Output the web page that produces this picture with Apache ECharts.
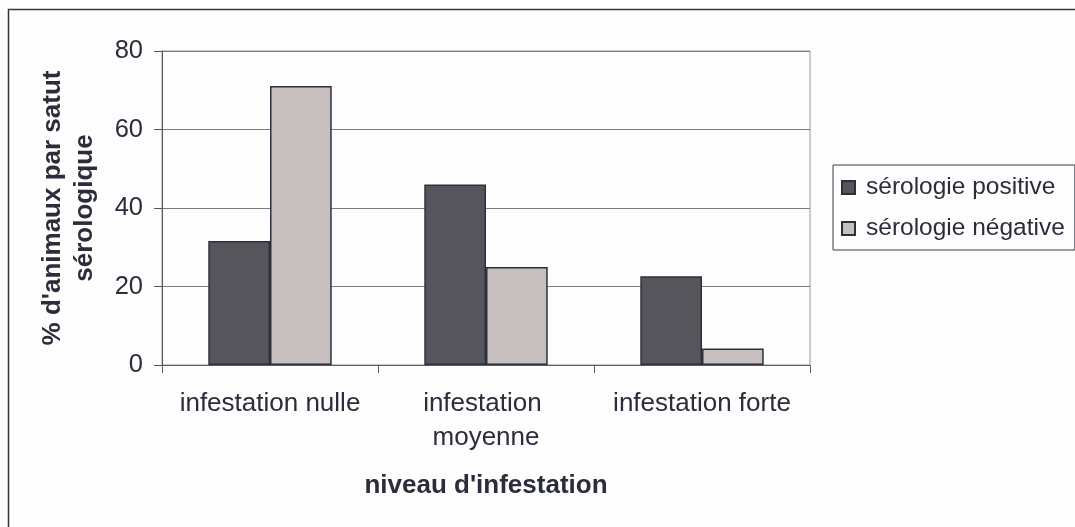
<!DOCTYPE html>
<html>
<head>
<meta charset="utf-8">
<script src="https://cdn.jsdelivr.net/npm/echarts@6/dist/echarts.min.js"></script>
<style>
  html, body { margin: 0; padding: 0; background: #fdfdfd; }
  #chart { width: 1075px; height: 527px; }
</style>
</head>
<body>
<div id="chart"></div>
<script>
// Serological status by infestation level (% of animals)
const categories = ['infestation nulle', 'infestation moyenne', 'infestation forte'];
const seriesNames = ['sérologie positive', 'sérologie négative'];
const positiveValues = [31.6, 46.0, 22.6];
const negativeValues = [71.1, 25.0, 4.2];
const yTicks = [0, 20, 40, 60, 80];

const FONT = '"Liberation Sans", Arial, sans-serif';
const TEXT = '#2b2e3a';
const EDGE = '#2d303c';

const chart = echarts.init(document.getElementById('chart'), null, { renderer: 'canvas' });

chart.setOption({
  backgroundColor: '#fdfdfd',
  animation: false,
  textStyle: { fontFamily: FONT, color: TEXT },
  grid: {
    left: 162, right: 265, top: 51, bottom: 162,
    show: true, borderColor: '#a09494', borderWidth: 1, backgroundColor: 'transparent'
  },
  legend: {
    orient: 'vertical',
    left: 833, top: 165,
    padding: [10, 10, 9, 8],
    itemWidth: 13, itemHeight: 13, itemGap: 16,
    icon: 'rect',
    borderColor: '#3a3d48', borderWidth: 1,
    textStyle: { fontFamily: FONT, fontSize: 24.5, color: TEXT, padding: [0, 0, 0, 6] },
    data: seriesNames
  },
  xAxis: {
    type: 'category',
    data: categories,
    name: "niveau d'infestation",
    nameLocation: 'middle',
    nameGap: 108,
    nameTextStyle: { fontFamily: FONT, fontSize: 26, fontWeight: 'bold', color: TEXT },
    axisLine: { lineStyle: { color: '#5e5e66', width: 1 } },
    axisTick: { show: true, length: 8, inside: false, lineStyle: { color: '#5e5e66' } },
    axisLabel: {
      interval: 0, margin: 22, fontSize: 26, lineHeight: 34, color: TEXT,
      width: 205, overflow: 'break', align: 'center'
    },
    splitLine: { show: false }
  },
  yAxis: {
    type: 'value',
    min: 0, max: 80, interval: 20,
    name: "% d'animaux par satut\nsérologique",
    nameLocation: 'middle',
    nameRotate: 90,
    nameGap: 61,
    nameTextStyle: { fontFamily: FONT, fontSize: 26, fontWeight: 'bold', color: TEXT, lineHeight: 32, align: 'center' },
    axisLine: { show: true, lineStyle: { color: '#55555d', width: 1 } },
    axisTick: { show: true, length: 8, inside: false, lineStyle: { color: '#55555d' } },
    axisLabel: {
      margin: 19, fontSize: 25.5, color: TEXT,
      formatter: v => (yTicks.includes(v) ? String(v) : '')
    },
    splitLine: { show: true, lineStyle: { color: '#7c7c84', width: 1 } }
  },
  series: [
    {
      name: seriesNames[0],
      type: 'bar',
      data: positiveValues,
      barGap: '0%',
      barCategoryGap: '42.86%',
      itemStyle: { color: '#56555b', borderColor: EDGE, borderWidth: 1.5 }
    },
    {
      name: seriesNames[1],
      type: 'bar',
      data: negativeValues,
      barGap: '0%',
      barCategoryGap: '42.86%',
      itemStyle: { color: '#c6bfbd', borderColor: EDGE, borderWidth: 1.5 }
    }
  ],
  graphic: [
    {
      type: 'rect',
      silent: true,
      shape: { x: 8.5, y: 9.5, width: 1100, height: 600 },
      style: { fill: 'none', stroke: '#34363f', lineWidth: 1.5 }
    }
  ]
});
</script>
</body>
</html>
